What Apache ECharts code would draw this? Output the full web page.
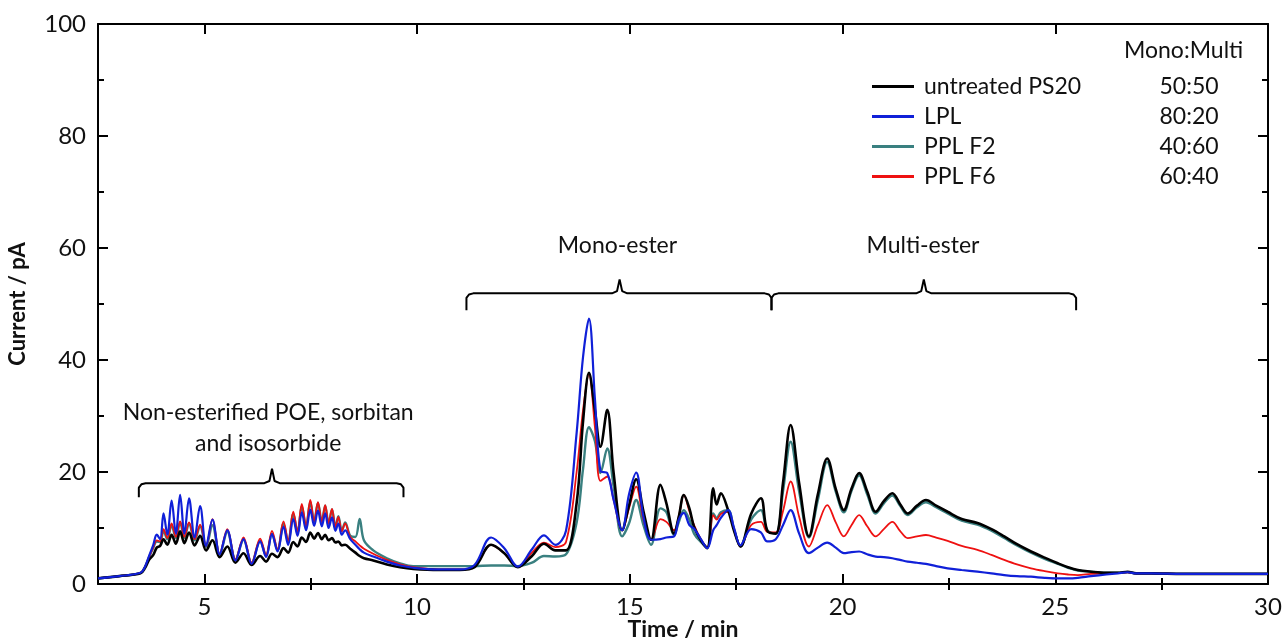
<!DOCTYPE html>
<html>
<head>
    <meta charset="utf-8">
    <title>PS20 chromatogram</title>
    <script src="https://cdn.jsdelivr.net/npm/echarts@6/dist/echarts.min.js"></script>
    <style>
        html, body { margin: 0; padding: 0; background: #fff; }
        #chart { width: 1285px; height: 641px; }
    </style>
</head>
<body>
<div id="chart"></div>
<script type="text/javascript">
    // retention time (min)
    const time = [2.5,3.0,3.5,3.6,3.7,3.8,3.88,3.96,4.04,4.13,
        4.23,4.33,4.43,4.53,4.64,4.77,4.90,5.04,5.19,5.36,
        5.54,5.73,5.92,6.11,6.31,6.45,6.59,6.72,6.86,6.97,
        7.09,7.19,7.29,7.39,7.49,7.58,7.67,7.76,7.84,7.92,
        8.0,8.08,8.15,8.23,8.31,8.43,8.55,8.65,8.75,8.97,
        9.29,9.6,9.91,10.5,11.0,11.35,11.74,12.05,12.37,12.7,
        12.98,13.25,13.5,13.75,13.9,14.04,14.18,14.31,14.47,14.62,
        14.82,14.98,15.15,15.32,15.5,15.72,15.86,16.04,16.15,16.27,
        16.4,16.51,16.67,16.82,16.96,17.04,17.14,17.31,17.45,17.6,
        17.85,18.08,18.23,18.43,18.6,18.78,18.98,19.21,19.42,19.64,
        19.84,20.03,20.21,20.39,20.58,20.78,20.97,21.17,21.35,21.53,
        21.75,21.96,22.2,22.47,22.8,23.17,23.5,23.8,24.1,24.43,
        24.75,25.06,25.3,25.53,25.84,26.2,26.47,26.7,26.9,27.25,
        28,29,30];

    // current (pA)
    const untreated = [1.0,1.4,1.9,2.8,4.3,5.2,6.5,6.8,8.0,7.0,
        8.8,7.2,9.4,7.3,9.2,6.9,8.6,6.0,7.8,4.8,
        6.7,3.8,5.5,3.4,5.0,4.0,5.4,4.8,6.4,5.6,
        7.5,6.7,8.3,7.5,9.2,8.1,9.1,8.0,8.8,7.8,
        8.2,7.4,7.6,6.9,7.0,6.3,5.6,5.0,4.6,4.2,
        3.5,3.0,2.7,2.5,2.5,3.0,7.0,5.5,3.0,5.0,
        7.2,6.0,6.0,14.5,29.0,37.7,31.0,24.5,31.1,19.8,
        9.6,14.0,18.7,13.0,7.9,17.7,14.4,9.0,12.0,15.9,
        13.5,10.2,7.8,6.4,17.1,14.2,16.2,13.2,9.5,6.7,
        12.5,15.3,9.5,9.0,18.0,28.4,18.0,8.5,16.0,22.4,
        17.0,13.2,17.0,19.8,16.5,12.9,14.8,16.2,14.3,12.6,
        14.0,15.0,14.0,12.9,11.6,10.9,9.8,8.5,7.1,5.8,
        4.7,3.7,3.0,2.5,2.2,2.0,2.0,2.2,1.9,1.9,
        1.8,1.8,1.8];

    const lpl = [1.0,1.4,2.0,3.0,5.0,7.0,8.8,8.0,12.6,8.8,
        14.9,9.0,15.9,9.0,15.3,8.3,13.9,6.8,11.5,5.3,
        9.6,4.2,8.0,3.6,7.6,4.8,8.9,5.8,10.2,7.0,
        11.6,8.6,12.8,9.6,13.3,10.4,13.1,10.3,12.6,10.0,
        11.9,9.5,10.8,8.8,9.6,8.0,7.0,6.2,5.6,4.9,
        4.0,3.3,2.9,2.6,2.6,3.4,8.3,6.4,3.1,6.2,
        8.7,7.0,9.5,27.0,40.5,47.4,33.0,20.2,19.8,15.0,
        9.6,16.0,19.9,12.0,7.9,8.0,8.3,8.5,11.5,12.7,
        10.5,9.9,8.0,6.4,9.6,10.5,11.8,13.2,10.0,6.9,
        9.8,9.2,7.6,8.0,10.5,13.2,9.0,5.5,6.5,7.4,
        6.5,5.5,5.7,5.8,5.3,4.9,4.8,4.6,4.3,4.0,
        3.8,3.6,3.2,2.8,2.5,2.2,1.9,1.6,1.4,1.3,
        1.1,1.0,1.0,1.1,1.4,1.7,1.9,2.1,1.9,1.9,
        1.8,1.8,1.8];

    const pplF2 = [1.0,1.4,2.0,3.0,4.8,6.5,7.6,7.5,9.5,8.0,
        10.5,8.2,11.0,8.2,10.8,7.8,10.3,6.6,10.5,5.3,
        9.3,4.3,7.9,3.7,7.7,5.0,9.0,6.0,10.8,7.5,
        12.5,9.2,13.9,10.2,14.7,11.1,14.5,11.1,14.0,10.8,
        13.3,10.2,12.1,9.5,11.0,8.6,8.4,11.6,7.8,6.0,
        4.6,3.7,3.2,3.2,3.2,3.2,3.3,3.3,3.2,3.8,
        5.0,4.9,5.3,11.0,20.5,28.0,25.5,19.8,24.2,17.4,
        8.5,10.8,15.0,10.5,7.0,13.5,12.8,8.8,11.0,13.2,
        11.5,9.0,7.5,6.5,12.6,11.8,12.8,13.2,9.8,6.7,
        11.5,13.2,9.6,9.0,16.5,25.4,16.5,8.3,15.0,21.8,
        16.5,12.8,16.6,19.4,16.0,12.6,14.4,15.8,14.0,12.3,
        13.7,14.6,13.7,12.6,11.3,10.6,9.5,8.2,6.9,5.6,
        4.5,3.6,2.9,2.4,2.2,2.0,2.0,2.1,1.9,1.9,
        1.8,1.8,1.8];

    const pplF6 = [1.0,1.4,2.0,3.0,4.8,6.6,7.8,7.6,9.8,8.2,
        10.8,8.4,11.2,8.4,11.0,8.0,10.6,6.8,11.6,5.4,
        9.8,4.4,8.3,3.8,8.1,5.2,9.5,6.2,11.2,7.7,
        12.9,9.4,14.3,10.4,15.0,11.2,14.6,11.1,14.1,10.8,
        13.4,10.2,12.0,9.4,10.8,8.4,7.6,6.9,6.3,5.4,
        4.3,3.5,3.0,2.6,2.6,3.1,7.0,5.5,3.0,5.6,
        7.4,6.6,7.5,20.0,31.0,37.5,28.0,18.4,19.2,15.0,
        9.6,13.5,17.4,11.5,7.9,11.6,11.1,9.6,12.0,15.9,
        13.0,10.5,8.0,6.5,12.3,11.5,12.5,12.9,9.8,6.7,
        10.5,11.1,9.3,9.2,13.0,18.3,12.0,6.7,10.5,14.1,
        11.0,8.5,10.5,12.3,10.3,8.5,9.8,11.1,9.5,8.2,
        8.5,8.75,8.3,7.7,6.8,6.1,5.2,4.3,3.5,2.8,
        2.3,1.9,1.7,1.6,1.8,1.9,2.0,2.1,1.9,1.9,
        1.8,1.8,1.8];

    const seriesNames = ['untreated PS20', 'LPL', 'PPL F2', 'PPL F6'];
    const ratios = ['50:50', '80:20', '40:60', '60:40'];

    const xMajor = [5, 10, 15, 20, 25, 30];
    const xMinor = [7.5, 12.5, 17.5, 22.5, 27.5];

    // brackets: [start, centre, end, bar level, end level, tip level]
    const brackets = [
        [3.46, 6.59, 9.68, 18.0, 15.5, 20.6],
        [11.16, 14.76, 18.33, 51.9, 48.9, 54.4],
        [18.33, 21.91, 25.49, 51.9, 48.9, 54.4]
    ];
    const notes = [
        [6.5, 27.8, 'Non-esterified POE, sorbitan\nand isosorbide'],
        [14.71, 60.4, 'Mono-ester'],
        [21.89, 60.4, 'Multi-ester']
    ];

    const pairs = (ys) => time.map((t, i) => [t, ys[i]]);

    function bracketLine(b) {
        const [x0, xc, x1, yb, ye, yt] = b;
        return [[x0, ye], [x0, yb - 0.8], [x0 + 0.06, yb - 0.2], [x0 + 0.16, yb],
            [xc - 0.18, yb], [xc - 0.06, yb + 0.4], [xc, yt], [xc + 0.06, yb + 0.4], [xc + 0.18, yb],
            [x1 - 0.16, yb], [x1 - 0.06, yb - 0.2], [x1, yb - 0.8], [x1, ye]];
    }

    const font = 'Lato, "Open Sans", sans-serif';
    const ink = '#111';
    const axisLine = { show: true, onZero: false, lineStyle: { color: '#000', width: 2 } };
    const tickStyle = { color: '#000', width: 2 };

    const xBase = { type: 'value', min: 2.5, max: 30, splitLine: { show: false } };
    const yBase = { type: 'value', min: 0, max: 100, interval: 20, splitLine: { show: false } };

    let chart = echarts.init(document.getElementById('chart'));

    const lineSeries = [
        { name: 'PPL F2', data: pairs(pplF2), color: '#3a8080', width: 2.4, z: 2 },
        { name: 'PPL F6', data: pairs(pplF6), color: '#ee1111', width: 1.8, z: 3 },
        { name: 'untreated PS20', data: pairs(untreated), color: '#000000', width: 2.6, z: 4 },
        { name: 'LPL', data: pairs(lpl), color: '#1020d8', width: 2.2, z: 5 }
    ].map(s => ({
        name: s.name,
        type: 'line',
        data: s.data,
        smooth: 0.35,
        showSymbol: false,
        z: s.z,
        color: s.color,
        lineStyle: { color: s.color, width: s.width }
    }));

    const bracketSeries = brackets.map(b => ({
        type: 'line',
        data: bracketLine(b),
        showSymbol: false,
        silent: true,
        z: 6,
        lineStyle: { color: '#000', width: 2 }
    }));

    chart.setOption({
        animation: false,
        textStyle: { fontFamily: font },
        grid: { left: 98, right: 17, top: 24, bottom: 57, outerBoundsMode: 'none', containLabel: false },
        legend: {
            data: seriesNames,
            orient: 'vertical',
            left: 867,
            top: 70,
            icon: 'rect',
            itemWidth: 42,
            itemHeight: 3,
            itemGap: 7,
            selectedMode: false,
            formatter: name => `{n|${name}}{r|${ratios[seriesNames.indexOf(name)]}}`,
            textStyle: {
                fontFamily: font,
                fontSize: 23,
                color: ink,
                padding: [0, 0, 0, 5],
                rich: {
                    n: { width: 234, fontSize: 23, lineHeight: 24, fontFamily: font, color: ink },
                    r: { width: 62, align: 'center', fontSize: 23, lineHeight: 24, fontFamily: font, color: ink }
                }
            }
        },
        graphic: [{
            type: 'text',
            left: 1124,
            top: 39,
            style: { text: 'Mono:Multi', fontSize: 23, fontFamily: font, fill: ink }
        }],
        xAxis: [
            Object.assign({}, xBase, {
                position: 'bottom',
                axisLine: axisLine,
                axisTick: { show: true, inside: true, length: 10, customValues: xMajor, lineStyle: tickStyle },
                axisLabel: { customValues: xMajor, fontSize: 24, color: ink, margin: 11, fontFamily: font },
                name: 'Time / min',
                nameLocation: 'middle',
                nameGap: 34,
                nameMoveOverlap: false,
                nameTextStyle: { fontSize: 23, fontWeight: 'bold', color: ink, fontFamily: font }
            }),
            Object.assign({}, xBase, {
                position: 'bottom',
                axisLine: { show: false },
                axisTick: { show: true, inside: true, length: 6, customValues: xMinor, lineStyle: tickStyle },
                axisLabel: { show: false }
            }),
            Object.assign({}, xBase, {
                position: 'top',
                axisLine: axisLine,
                axisTick: { show: true, inside: true, length: 10, customValues: xMajor, lineStyle: tickStyle },
                axisLabel: { show: false }
            }),
            Object.assign({}, xBase, {
                position: 'top',
                axisLine: { show: false },
                axisTick: { show: true, inside: true, length: 6, customValues: xMinor, lineStyle: tickStyle },
                axisLabel: { show: false }
            })
        ],
        yAxis: [
            Object.assign({}, yBase, {
                position: 'left',
                axisLine: axisLine,
                axisTick: { show: true, inside: true, length: 10, lineStyle: tickStyle },
                minorTick: { show: true, splitNumber: 2, length: 6, lineStyle: tickStyle },
                axisLabel: { fontSize: 24, color: ink, margin: 12, fontFamily: font },
                name: 'Current / pA',
                nameLocation: 'middle',
                nameGap: 69,
                nameMoveOverlap: false,
                nameRotate: 90,
                nameTextStyle: { fontSize: 22, fontWeight: 'bold', color: ink, fontFamily: font }
            }),
            Object.assign({}, yBase, {
                position: 'right',
                axisLine: axisLine,
                axisTick: { show: true, inside: true, length: 10, lineStyle: tickStyle },
                minorTick: { show: true, splitNumber: 2, length: 6, lineStyle: tickStyle },
                axisLabel: { show: false }
            })
        ],
        series: lineSeries.concat(bracketSeries, [{
            type: 'scatter',
            data: notes,
            symbolSize: 0,
            silent: true,
            z: 7,
            itemStyle: { opacity: 1 },
            label: {
                show: true,
                position: 'inside',
                formatter: p => p.data[2],
                fontSize: 23,
                lineHeight: 31,
                color: ink,
                opacity: 1,
                fontFamily: font,
                align: 'center',
                verticalAlign: 'middle'
            }
        }])
    });
</script>
</body>
</html>
